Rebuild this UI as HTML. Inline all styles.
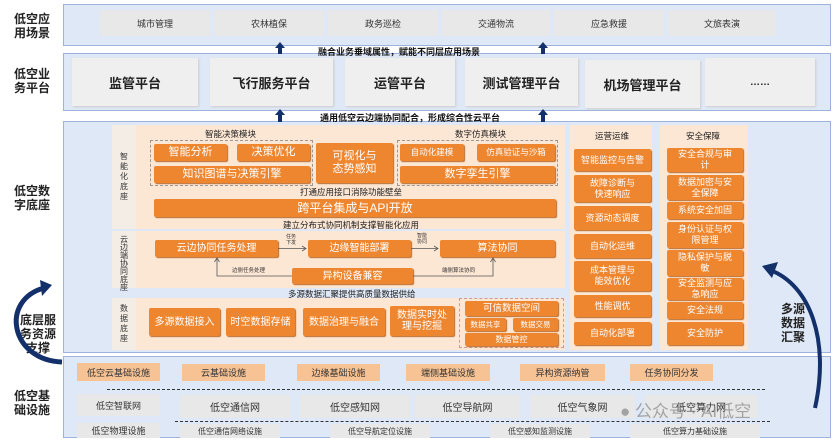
<!DOCTYPE html>
<html><head><meta charset="utf-8"><style>
*{margin:0;padding:0;box-sizing:border-box}
body{width:834px;height:440px;background:#fff;position:relative;overflow:hidden;font-family:"Liberation Sans","Noto Sans CJK SC",sans-serif}
div{position:absolute}
.band{background:#dfe8f6;border:1.5px solid #9db2dc}
.lbl{font-size:12px;font-weight:bold;color:#222;line-height:14px;text-align:center}
.g{background:#e8e8e8;display:flex;align-items:center;justify-content:center;color:#333;font-size:9px}
.pl{background:#efefef;display:flex;align-items:center;justify-content:center;color:#222;font-size:13px;font-weight:bold;box-shadow:1px 1px 2px #ccc}
.o{background:#ee8630;color:#fff;display:flex;align-items:center;justify-content:center;text-align:center;border-radius:2px;box-shadow:1px 1px 1px #b86a2a;line-height:11px}
.lo{background:#fce6d4}
.o2{background:#f8c394;display:flex;align-items:center;justify-content:center;font-size:9px;color:#333}
.t{font-size:8.5px;color:#222;white-space:nowrap}
.tb{font-size:9px;font-weight:bold;color:#111;white-space:nowrap;z-index:5}
.ar{width:0;height:0;border-left:5px solid transparent;border-right:5px solid transparent;border-bottom:6px solid #14306b;z-index:5}
.as{width:4px;background:#14306b;z-index:5}
.vl{font-size:8px;color:#333;width:10px;line-height:10px;text-align:center}
.dash{border-top:1.5px dashed #333;height:0}
</style></head><body>

<!-- Layer1 -->
<div class="band" style="left:63px;top:4px;width:768px;height:42px"></div>
<div class="lbl" style="left:8px;top:12px;width:48px">低空应<br>用场景</div>
<div class="g" style="left:100px;top:10px;width:110px;height:26px">城市管理</div>
<div class="g" style="left:214px;top:10px;width:110px;height:26px">农林植保</div>
<div class="g" style="left:328px;top:10px;width:110px;height:26px">政务巡检</div>
<div class="g" style="left:442px;top:10px;width:108px;height:26px">交通物流</div>
<div class="g" style="left:554px;top:10px;width:110px;height:26px">应急救援</div>
<div class="g" style="left:668px;top:10px;width:108px;height:26px">文旅表演</div>

<div class="tb" style="left:318px;top:45px">融合业务垂域属性，赋能不同层应用场景</div>

<!-- Layer2 -->
<div class="band" style="left:63px;top:53px;width:768px;height:58px"></div>
<div class="lbl" style="left:8px;top:67px;width:48px">低空业<br>务平台</div>
<div class="pl" style="left:72px;top:58px;width:126px;height:48px">监管平台</div>
<div class="pl" style="left:210px;top:58px;width:123px;height:48px">飞行服务平台</div>
<div class="pl" style="left:345px;top:58px;width:110px;height:48px">运管平台</div>
<div class="pl" style="left:465px;top:58px;width:113px;height:48px">测试管理平台</div>
<div class="pl" style="left:585px;top:60px;width:115px;height:48px">机场管理平台</div>
<div class="pl" style="left:705px;top:58px;width:110px;height:48px;font-size:10px">……</div>

<div class="ar" style="left:275px;top:42px"></div><div class="as" style="left:278px;top:48px;height:6px"></div>
<div class="ar" style="left:538px;top:42px"></div><div class="as" style="left:541px;top:48px;height:6px"></div>
<div class="ar" style="left:275px;top:109px"></div><div class="as" style="left:278px;top:115px;height:7px"></div>
<div class="ar" style="left:538px;top:109px"></div><div class="as" style="left:541px;top:115px;height:7px"></div>
<div class="tb" style="left:320px;top:111px">通用低空云边端协同配合，形成综合性云平台</div>

<!-- Layer3 -->
<div class="band" style="left:63px;top:121px;width:768px;height:232px"></div>
<div class="lbl" style="left:8px;top:184px;width:48px">低空数<br>字底座</div>

<div class="lo" style="left:112px;top:125px;width:453px;height:104px"></div>
<div style="left:112px;top:125px;width:24px;height:104px;background:#f4ede6"></div>
<div class="vl" style="left:119px;top:152px">智能化底座</div>
<div class="t" style="left:205px;top:128px">智能决策模块</div>
<div class="t" style="left:455px;top:128px">数字仿真模块</div>
<div style="left:150px;top:140px;width:163px;height:46px;border:1px dashed #999"></div>
<div style="left:397px;top:140px;width:161px;height:46px;border:1px dashed #999"></div>
<div class="o" style="left:154px;top:144px;width:73px;height:17px;font-size:11px">智能分析</div>
<div class="o" style="left:237px;top:144px;width:73px;height:17px;font-size:11px">决策优化</div>
<div class="o" style="left:154px;top:166px;width:156px;height:17px;font-size:11px">知识图谱与决策引擎</div>
<div class="o" style="left:316px;top:143px;width:77px;height:40px;font-size:11px;line-height:13px">可视化与<br>态势感知</div>
<div class="o" style="left:400px;top:144px;width:64px;height:17px;font-size:8.5px">自动化建模</div>
<div class="o" style="left:477px;top:144px;width:78px;height:17px;font-size:8.5px">仿真验证与沙箱</div>
<div class="o" style="left:400px;top:166px;width:155px;height:17px;font-size:11px">数字孪生引擎</div>
<div class="t" style="left:300px;top:186px">打通应用接口消除功能壁垒</div>
<div class="o" style="left:154px;top:199px;width:402px;height:18px;font-size:12px">跨平台集成与API开放</div>
<div class="t" style="left:283px;top:219px">建立分布式协同机制支撑智能化应用</div>

<div class="lo" style="left:112px;top:231px;width:453px;height:57px"></div>
<div style="left:112px;top:231px;width:24px;height:57px;background:#f4ede6"></div>
<div class="vl" style="left:119px;top:236px;line-height:8px">云边端协同底座</div>
<div class="o" style="left:155px;top:240px;width:123px;height:17px;font-size:10px">云边协同任务处理</div>
<div class="o" style="left:308px;top:240px;width:103px;height:17px;font-size:10px">边缘智能部署</div>
<div class="o" style="left:440px;top:240px;width:115px;height:17px;font-size:10px">算法协同</div>
<div class="o" style="left:292px;top:268px;width:121px;height:16px;font-size:10px">异构设备兼容</div>
<svg style="position:absolute;left:0;top:0" width="834" height="440">
<g stroke="#555" stroke-width="0.8" fill="none">
<path d="M278 248.5H306"/><path d="M302 246l4 2.5l-4 2.5"/>
<path d="M411 248.5H438"/><path d="M434 246l4 2.5l-4 2.5"/>
<path d="M292 276H217V259"/><path d="M214.5 262l2.5-4l2.5 4"/>
<path d="M413 276H493V259"/><path d="M490.5 262l2.5-4l2.5 4"/>
</g>
</svg>
<div style="left:286px;top:234px;font-size:5px;line-height:6px;color:#333;text-align:center">任务<br>下发</div>
<div style="left:417px;top:233px;font-size:5px;line-height:6px;color:#333;text-align:center">智能<br>协同</div>
<div style="left:232px;top:266px;font-size:5.5px;color:#333">边侧任务处理</div>
<div style="left:442px;top:266px;font-size:5.5px;color:#333">端侧算法协同</div>
<div class="t" style="left:288px;top:288px">多源数据汇聚提供高质量数据供给</div>

<div class="lo" style="left:112px;top:298px;width:453px;height:52px"></div>
<div style="left:112px;top:298px;width:24px;height:52px;background:#f4ede6"></div>
<div class="vl" style="left:119px;top:304px">数据底座</div>
<div class="o" style="left:149px;top:308px;width:71px;height:28px;font-size:10px">多源数据接入</div>
<div class="o" style="left:226px;top:308px;width:69px;height:28px;font-size:10px">时空数据存储</div>
<div class="o" style="left:303px;top:308px;width:82px;height:28px;font-size:10px">数据治理与融合</div>
<div class="o" style="left:390px;top:306px;width:64px;height:30px;font-size:10px">数据实时处<br>理与挖掘</div>
<div style="left:459px;top:298px;width:105px;height:50px;border:1px dashed #c99"></div>
<div class="o" style="left:465px;top:301px;width:93px;height:15px;font-size:9.5px">可信数据空间</div>
<div class="o" style="left:465px;top:318px;width:41px;height:13px;font-size:7.5px">数据共享</div>
<div class="o" style="left:513px;top:318px;width:45px;height:13px;font-size:7.5px">数据交易</div>
<div class="o" style="left:465px;top:333px;width:93px;height:13px;font-size:8px">数据管控</div>

<div class="lo" style="left:570px;top:125px;width:82px;height:225px"></div>
<div class="t" style="left:595px;top:130px">运营运维</div>
<div class="o" style="left:574px;top:149px;width:77px;height:22px;font-size:9px">智能监控与告警</div>
<div class="o" style="left:574px;top:175px;width:77px;height:27px;font-size:9px">故障诊断与<br>快速响应</div>
<div class="o" style="left:574px;top:206px;width:77px;height:24px;font-size:9px">资源动态调度</div>
<div class="o" style="left:574px;top:234px;width:77px;height:24px;font-size:9px">自动化运维</div>
<div class="o" style="left:574px;top:261px;width:77px;height:30px;font-size:9px">成本管理与<br>能效优化</div>
<div class="o" style="left:574px;top:295px;width:77px;height:22px;font-size:9px">性能调优</div>
<div class="o" style="left:574px;top:322px;width:77px;height:23px;font-size:9px">自动化部署</div>

<div class="lo" style="left:660px;top:125px;width:88px;height:225px"></div>
<div class="t" style="left:686px;top:130px">安全保障</div>
<div class="o" style="left:667px;top:148px;width:76px;height:24px;font-size:9px">安全合规与审<br>计</div>
<div class="o" style="left:667px;top:175px;width:76px;height:25px;font-size:9px">数据加密与安<br>全保障</div>
<div class="o" style="left:667px;top:202px;width:76px;height:17px;font-size:9px">系统安全加固</div>
<div class="o" style="left:667px;top:222px;width:76px;height:26px;font-size:9px">身份认证与权<br>限管理</div>
<div class="o" style="left:667px;top:250px;width:76px;height:26px;font-size:9px">隐私保护与脱<br>敏</div>
<div class="o" style="left:667px;top:278px;width:76px;height:22px;font-size:9px">安全监测与应<br>急响应</div>
<div class="o" style="left:667px;top:302px;width:76px;height:17px;font-size:9px">安全法规</div>
<div class="o" style="left:667px;top:322px;width:76px;height:23px;font-size:9px">安全防护</div>

<div class="lbl" style="left:775px;top:302px;width:36px">多源<br>数据<br>汇聚</div>
<div class="lbl" style="left:18px;top:313px;width:40px">底层服<br>务资源<br>支撑</div>

<div class="band" style="left:63px;top:356px;width:768px;height:82px"></div>
<div class="lbl" style="left:8px;top:389px;width:48px">低空基<br>础设施</div>
<div class="o2" style="left:77px;top:363px;width:83px;height:18px">低空云基础设施</div>
<div class="o2" style="left:182px;top:364px;width:83px;height:17px">云基础设施</div>
<div class="o2" style="left:297px;top:364px;width:83px;height:17px">边缘基础设施</div>
<div class="o2" style="left:406px;top:364px;width:84px;height:17px">端侧基础设施</div>
<div class="o2" style="left:520px;top:364px;width:85px;height:17px">异构资源纳管</div>
<div class="o2" style="left:630px;top:364px;width:83px;height:17px">任务协同分发</div>
<div class="dash" style="left:107px;top:389px;width:658px"></div>
<div class="g" style="left:77px;top:394px;width:83px;height:22px">低空智联网</div>
<div class="g" style="left:180px;top:395px;width:110px;height:23px;font-size:10px">低空通信网</div>
<div class="g" style="left:300px;top:395px;width:110px;height:23px;font-size:10px">低空感知网</div>
<div class="g" style="left:415px;top:395px;width:105px;height:23px;font-size:10px">低空导航网</div>
<div class="g" style="left:530px;top:395px;width:105px;height:23px;font-size:10px">低空气象网</div>
<div class="g" style="left:645px;top:395px;width:112px;height:23px;font-size:10px">低空算力网</div>
<div class="dash" style="left:175px;top:421px;width:595px"></div>
<div class="g" style="left:77px;top:423px;width:83px;height:15px">低空物理设施</div>
<div class="g" style="left:180px;top:424px;width:100px;height:14px;font-size:8px">低空通信网络设施</div>
<div class="g" style="left:330px;top:424px;width:100px;height:14px;font-size:8px">低空导航定位设施</div>
<div class="g" style="left:490px;top:424px;width:100px;height:14px;font-size:8px">低空感知监测设施</div>
<div class="g" style="left:630px;top:424px;width:130px;height:14px;font-size:8px">低空算力基础设施</div>
<div style="left:620px;top:397px;font-size:17px;color:rgba(140,140,140,0.75);white-space:nowrap">●&nbsp;公众号 · AI低空</div>

<svg style="position:absolute;left:0;top:0" width="834" height="440">
<path d="M815 408 C 830 340, 810 285, 770 270" stroke="#14306b" stroke-width="4" fill="none"/>
<path d="M762 266 L778 262 L772 278 Z" fill="#14306b"/>
<path d="M62 362 C 10 360, 0 300, 44 288" stroke="#14306b" stroke-width="5" fill="none"/>
<path d="M52 285 L40 280 L42 296 Z" fill="#14306b"/>
</svg>
</body></html>
